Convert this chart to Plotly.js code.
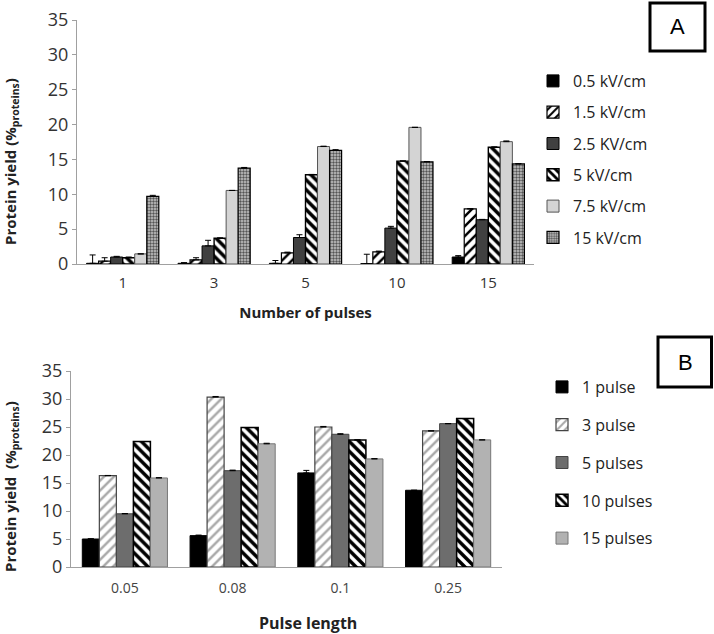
<!DOCTYPE html>
<html>
<head>
<meta charset="utf-8">
<script src="https://cdn.plot.ly/plotly-3.0.1.min.js"></script>
<style>html,body{margin:0;padding:0;background:#fff;}#chart{width:714px;height:634px;}</style>
</head>
<body>
<div id="chart"></div>
<script>
// ---- Panel A data ----
const catsA = ['1', '3', '5', '10', '15'];
const namesA = ['0.5 kV/cm', '1.5 kV/cm', '2.5 KV/cm', '5 kV/cm', '7.5 kV/cm', '15 kV/cm'];
const a05 = [0.1, 0.1, 0.1, 0.05, 1.0];
const a05err = [1.2, 0.1, 0.4, 1.35, 0.2];
const a15 = [0.4, 0.6, 1.6, 1.75, 7.9];
const a15err = [0.5, 0.3, 0.1, 0.1, 0.05];
const a25 = [1.0, 2.6, 3.8, 5.15, 6.35];
const a25err = [0.1, 0.8, 0.4, 0.25, 0.05];
const a5 = [0.9, 3.7, 12.8, 14.75, 16.75];
const a5err = [0.1, 0.05, 0.05, 0.05, 0.05];
const a75 = [1.45, 10.55, 16.85, 19.6, 17.55];
const a75err = [0, 0, 0.05, 0, 0.1];
const a150 = [9.7, 13.75, 16.3, 14.65, 14.35];
const a150err = [0.15, 0.1, 0.1, 0.05, 0.05];

// ---- Panel B data ----
const catsB = ['0.05', '0.08', '0.1', '0.25'];
const namesB = ['1 pulse', '3 pulse', '5 pulses', '10 pulses', '15 pulses'];
const b1 = [5.0, 5.6, 16.8, 13.7];
const b1err = [0.05, 0.1, 0.45, 0];
const b3 = [16.3, 30.35, 25.0, 24.3];
const b3err = [0.05, 0.1, 0.1, 0];
const b5 = [9.5, 17.2, 23.7, 25.6];
const b5err = [0.05, 0.1, 0.1, 0];
const b10 = [22.4, 24.9, 22.7, 26.5];
const b10err = [0, 0, 0, 0];
const b15 = [15.9, 22.0, 19.3, 22.7];
const b15err = [0.05, 0.1, 0.05, 0];

const FONT = 'Open Sans, Lato, sans-serif';

function errY(arr) {
  return {type: 'data', symmetric: false, array: arr, arrayminus: arr.map(() => 0),
          color: '#000', thickness: 1, width: 3};
}

const stylesA = [
  {color: '#000000', line: {color: '#000', width: 1}},
  {color: '#ffffff', line: {color: '#000', width: 1.2}, pattern: {shape: '/', fgcolor: '#000', bgcolor: '#fff', size: 7, solidity: 0.35}},
  {color: '#404040', line: {color: '#000', width: 1}},
  {color: '#ffffff', line: {color: '#000', width: 1.4}, pattern: {shape: '\\', fgcolor: '#000', bgcolor: '#fff', size: 7, solidity: 0.5}},
  {color: '#d4d4d4', line: {color: '#555', width: 1}},
  {color: '#9a9a9a', line: {color: '#000', width: 1.2}, pattern: {shape: '.', fgcolor: '#555', bgcolor: '#c8c8c8', size: 3, solidity: 0.5}}
];
const seriesA = [a05, a15, a25, a5, a75, a150];
const errsA = [a05err, a15err, a25err, a5err, a75err, a150err];

const stylesB = [
  {color: '#000000', line: {color: '#000', width: 1}},
  {color: '#ffffff', line: {color: '#444', width: 1.2}, pattern: {shape: '/', fgcolor: '#a8a8a8', bgcolor: '#fff', size: 7, solidity: 0.35}},
  {color: '#6d6d6d', line: {color: '#444', width: 1}},
  {color: '#ffffff', line: {color: '#000', width: 1.5}, pattern: {shape: '\\', fgcolor: '#000', bgcolor: '#fff', size: 7, solidity: 0.5}},
  {color: '#b2b2b2', line: {color: '#777', width: 1}}
];
const seriesB = [b1, b3, b5, b10, b15];
const errsB = [b1err, b3err, b5err, b10err, b15err];

const traces = [];
seriesA.forEach((vals, i) => {
  traces.push({
    type: 'bar', x: catsA, y: vals, name: namesA[i], xaxis: 'x', yaxis: 'y',
    marker: stylesA[i], error_y: errY(errsA[i]), legend: 'legend', legendgroup: 'A' + i
  });
});
seriesB.forEach((vals, i) => {
  traces.push({
    type: 'bar', x: catsB, y: vals, name: namesB[i], xaxis: 'x2', yaxis: 'y2',
    marker: stylesB[i], error_y: errY(errsB[i]), legend: 'legend2', legendgroup: 'B' + i
  });
});

const W = 714, H = 634;
const px = v => v / W;
const py = v => 1 - v / H;

const yAxisCommon = {
  range: [0, 35], dtick: 5, showgrid: false, zeroline: false,
  showline: true, linecolor: '#a0a0a0', linewidth: 1,
  ticks: 'outside', ticklen: 4, tickcolor: '#a0a0a0',
  tickfont: {family: FONT, size: 18, color: '#333'}
};
const xAxisCommon = {
  type: 'category', showgrid: false, zeroline: false,
  showline: true, linecolor: '#a0a0a0', linewidth: 1, ticks: ''
};

const layout = {
  width: W, height: H,
  margin: {l: 0, r: 0, t: 0, b: 0},
  paper_bgcolor: '#fff', plot_bgcolor: '#fff',
  barmode: 'group', bargap: 0.21, bargroupgap: 0,
  font: {family: FONT, color: '#333'},
  xaxis: Object.assign({}, xAxisCommon, {
    domain: [px(77), px(534)], anchor: 'y',
    ticklabelstandoff: 5,
    tickfont: {family: FONT, size: 15, color: '#333'},
    title: {text: '<b>Number of pulses</b>', font: {family: FONT, size: 15, color: '#222'}, standoff: 16}
  }),
  yaxis: Object.assign({}, yAxisCommon, {domain: [py(264), py(20)], anchor: 'x'}),
  xaxis2: Object.assign({}, xAxisCommon, {
    domain: [px(71), px(502)], anchor: 'y2',
    ticklabelstandoff: 8,
    tickfont: {family: FONT, size: 14, color: '#444'}
  }),
  yaxis2: Object.assign({}, yAxisCommon, {domain: [py(567), py(371)], anchor: 'x2'}),
  legend: {
    x: px(533), y: py(64), xanchor: 'left', yanchor: 'top',
    font: {family: FONT, size: 16, color: '#222'},
    tracegroupgap: 7.5, bgcolor: 'rgba(0,0,0,0)', traceorder: 'grouped'
  },
  legend2: {
    x: px(542), y: py(370), xanchor: 'left', yanchor: 'top',
    font: {family: FONT, size: 16, color: '#222'},
    tracegroupgap: 14, bgcolor: 'rgba(0,0,0,0)', traceorder: 'grouped'
  },
  shapes: [
    {type: 'rect', xref: 'paper', yref: 'paper', x0: px(650), x1: px(705), y0: py(51), y1: py(3),
     line: {color: '#000', width: 3}, fillcolor: 'rgba(0,0,0,0)'},
    {type: 'rect', xref: 'paper', yref: 'paper', x0: px(658), x1: px(711.5), y0: py(387), y1: py(337),
     line: {color: '#000', width: 3}, fillcolor: 'rgba(0,0,0,0)'}
  ],
  annotations: [
    {text: 'A', xref: 'paper', yref: 'paper', x: px(677.5), y: py(27), showarrow: false,
     xanchor: 'center', yanchor: 'middle', font: {family: 'Liberation Sans, Arial, sans-serif', size: 22, color: '#000'}},
    {text: 'B', xref: 'paper', yref: 'paper', x: px(685), y: py(362), showarrow: false,
     xanchor: 'center', yanchor: 'middle', font: {family: 'Liberation Sans, Arial, sans-serif', size: 22, color: '#000'}},
    {text: '<b>Protein yield (%<sub>proteins</sub>)</b>', xref: 'paper', yref: 'paper', x: px(11), y: py(162),
     showarrow: false, textangle: -90, xanchor: 'center', yanchor: 'middle',
     font: {family: FONT, size: 15, color: '#222'}},
    {text: '<b>Protein yield  (%<sub>proteins</sub>)</b>', xref: 'paper', yref: 'paper', x: px(11), y: py(487),
     showarrow: false, textangle: -90, xanchor: 'center', yanchor: 'middle',
     font: {family: FONT, size: 15, color: '#222'}},
    {text: '<b>Pulse length</b>', xref: 'paper', yref: 'paper', x: px(308), y: py(623),
     showarrow: false, xanchor: 'center', yanchor: 'middle',
     font: {family: FONT, size: 16, color: '#222'}}
  ]
};

Plotly.newPlot('chart', traces, layout, {staticPlot: true, displayModeBar: false});
</script>
</body>
</html>
